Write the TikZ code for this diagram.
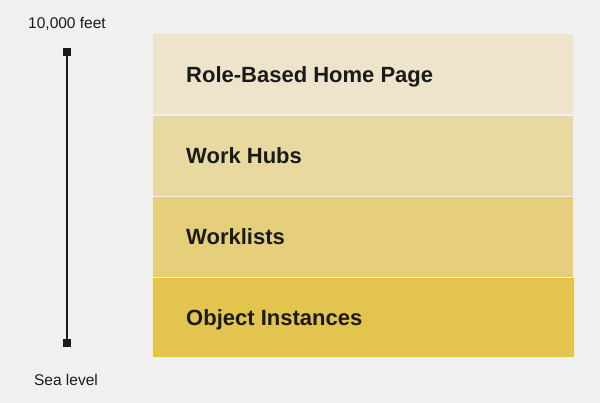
\documentclass[tikz,border=0pt]{standalone}
\usepackage{fontspec}
\setmainfont{Liberation Sans}
\definecolor{bg}{HTML}{F0F0F0}
\definecolor{rowa}{HTML}{EDE4CB}
\definecolor{rowb}{HTML}{E8D9A0}
\definecolor{rowc}{HTML}{E5CF7A}
\definecolor{rowd}{HTML}{E2C44E}
\definecolor{rowdedge}{HTML}{E6C23A}
\definecolor{ink}{HTML}{1A1A1A}
\tikzset{
  level/.style={anchor=south west, inner sep=0pt, minimum width=420pt, draw=none},
  lvltext/.style={font=\bfseries\fontsize{22}{26}\selectfont, text=ink, anchor=base west, inner sep=0pt},
  scaletext/.style={font=\fontsize{15.5}{18}\selectfont, text=ink, inner sep=0pt, anchor=base},
  marker/.style={fill=ink, draw=ink, minimum size=7pt, inner sep=0pt}
}
\begin{document}
\begin{tikzpicture}[x=1pt,y=1pt]
\fill[bg] (0,0) rectangle (600,403);
\useasboundingbox (0,0) rectangle (600,403);
% rows (y = 403 - pixel)
\node[level, fill=rowa, minimum height=80pt] (r1) at (153,288.5) {};
\node[level, fill=rowb, minimum height=80pt] (r2) at (153,207) {};
\node[level, fill=rowc, minimum height=80pt] (r3) at (153,126) {};
\node[level, fill=rowd, draw=rowdedge, line width=0.8pt, minimum height=78pt] (r4) at (153.4,46.4) {};
\node[lvltext] (t1) at (186,320.5) {Role-Based Home Page};
\node[lvltext] (t2) at (186,239) {Work Hubs};
\node[lvltext] (t3) at (186,158) {Worklists};
\node[lvltext] (t4) at (186,77.5) {Object Instances};
% altitude scale
\node[marker] (top) at (67,351) {};
\node[marker] (bot) at (67,60) {};
\draw[ink, line width=1.2pt] (top) -- (bot);
\node[scaletext] (hi) at (67,374) {10,000 feet};
\node[scaletext] (lo) at (66,17) {Sea level};
\end{tikzpicture}
\end{document}
